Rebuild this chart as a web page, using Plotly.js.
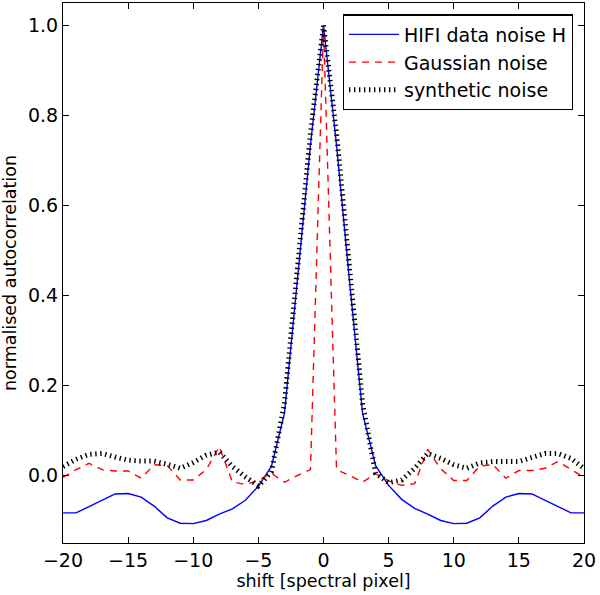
<!DOCTYPE html>
<html>
<head>
<meta charset="utf-8">
<script src="https://cdn.plot.ly/plotly-3.0.1.min.js"></script>
<style>
  html, body { margin: 0; padding: 0; background: #fff; }
  #plot_autocorr { width: 600px; height: 595px; }
</style>
</head>
<body>
<div id="plot_autocorr"></div>
<script>
shift = [-20, -19, -18, -17, -16, -15, -14, -13, -12, -11, -10,
         -9, -8, -7, -6, -5, -4, -3, -2, -1, 0,
         1, 2, 3, 4, 5, 6, 7, 8, 9, 10,
         11, 12, 13, 14, 15, 16, 17, 18, 19, 20];

hifiNoise = [-0.083, -0.083, -0.069, -0.055, -0.041, -0.040, -0.048, -0.068, -0.094, -0.106, -0.107,
             -0.100, -0.086, -0.074, -0.055, -0.024, 0.020, 0.138, 0.432, 0.735, 1.000,
             0.735, 0.432, 0.138, 0.022, -0.022, -0.053, -0.073, -0.086, -0.100, -0.107,
             -0.106, -0.094, -0.068, -0.048, -0.040, -0.041, -0.055, -0.069, -0.083, -0.083];

gaussNoise = [-0.004, 0.013, 0.027, 0.013, 0.010, 0.010, -0.006, 0.024, 0.022, -0.010, -0.010,
              0.013, 0.064, -0.014, -0.020, -0.011, 0.005, -0.015, 0.000, 0.013, 1.000,
              0.013, 0.000, -0.015, 0.004, -0.012, -0.022, -0.018, 0.058, 0.015, -0.011,
              -0.011, 0.021, 0.024, -0.006, 0.011, 0.011, 0.016, 0.031, 0.013, -0.004];

synthNoise = [0.020, 0.036, 0.047, 0.049, 0.041, 0.034, 0.032, 0.032, 0.025, 0.016, 0.029,
              0.045, 0.052, 0.020, -0.003, -0.023, 0.008, 0.160, 0.460, 0.760, 1.000,
              0.760, 0.460, 0.160, 0.005, -0.016, -0.010, 0.016, 0.049, 0.038, 0.024,
              0.016, 0.028, 0.031, 0.031, 0.031, 0.040, 0.049, 0.049, 0.038, 0.016];

xTicks = [-20, -15, -10, -5, 0, 5, 10, 15, 20];
yTicks = [0.0, 0.2, 0.4, 0.6, 0.8, 1.0];

var trace1 = {
  x: shift,
  y: hifiNoise,
  name: 'HIFI data noise H',
  legendgroup: 'a',
  type: 'scatter',
  mode: 'lines',
  line: { color: '#0000ff', width: 1.4 }
};

var trace2 = {
  x: shift,
  y: gaussNoise,
  name: 'Gaussian noise',
  legendgroup: 'b',
  type: 'scatter',
  mode: 'lines',
  line: { color: '#ff0000', width: 1.4, dash: '7px,6px' }
};

var trace3 = {
  x: shift,
  y: synthNoise,
  name: 'synthetic noise',
  legendgroup: 'c',
  type: 'scatter',
  mode: 'lines',
  line: { color: '#000000', width: 5, dash: '1.4px,3.6px' }
};

var data = [trace1, trace2, trace3];

var axisStyle = {
  showline: true,
  linecolor: '#000',
  linewidth: 1.2,
  mirror: 'allticks',
  ticks: 'inside',
  ticklen: 6,
  tickwidth: 1.2,
  tickcolor: '#000',
  showgrid: false,
  zeroline: false,
  tickfont: { size: 19, color: '#000' }
};

var layout = {
  width: 600,
  height: 595,
  margin: { l: 63, r: 16, t: 3, b: 52 },
  paper_bgcolor: '#fff',
  plot_bgcolor: '#fff',
  font: { family: 'DejaVu Sans, sans-serif', size: 19, color: '#000' },
  showlegend: true,
  legend: {
    x: 0.537,
    xanchor: 'left',
    y: 0.979,
    yanchor: 'top',
    bordercolor: '#000',
    borderwidth: 1.2,
    bgcolor: '#fff',
    font: { size: 19 },
    itemwidth: 50,
    tracegroupgap: 0
  },
  xaxis: Object.assign({}, axisStyle, {
    range: [-20, 20],
    tickvals: xTicks,
    ticktext: xTicks.map(function (v) { return v < 0 ? '\u2212' + Math.abs(v) : String(v); }),
    title: { text: 'shift [spectral pixel]', font: { size: 17.5 }, standoff: 4 }
  }),
  yaxis: Object.assign({}, axisStyle, {
    range: [-0.15, 1.05],
    tickvals: yTicks,
    ticktext: yTicks.map(function (v) { return v.toFixed(1); }),
    title: { text: 'normalised autocorrelation', font: { size: 17.5 }, standoff: 6 }
  })
};

var config = {
  responsive: false,
  displayModeBar: false
};

Plotly.newPlot('plot_autocorr', data, layout, config);
</script>
</body>
</html>
